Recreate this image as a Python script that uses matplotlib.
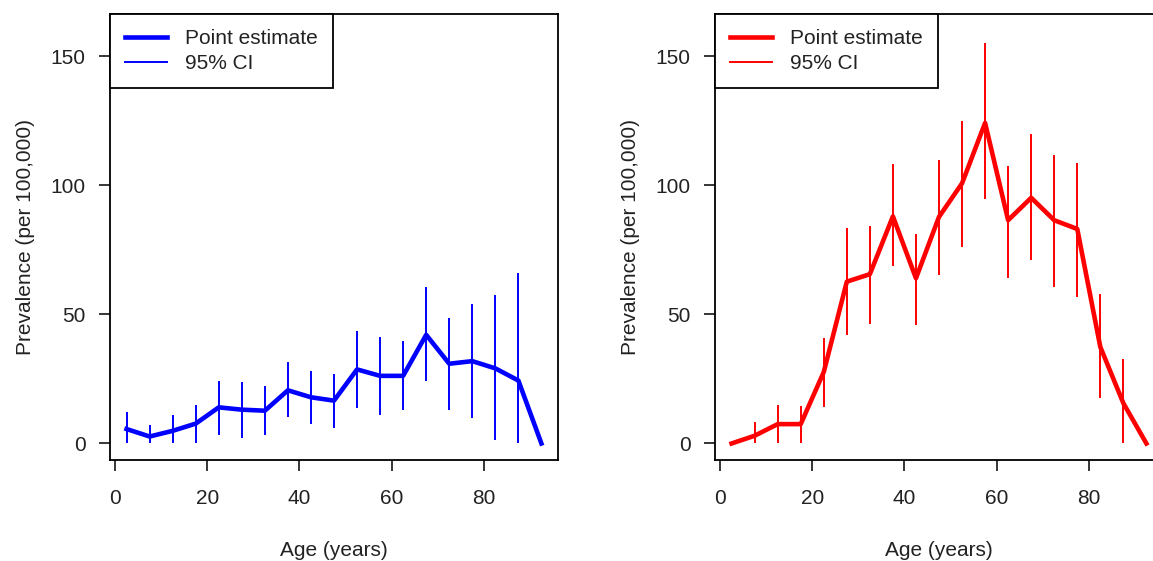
import numpy as np
import matplotlib
matplotlib.use("Agg")
import matplotlib.pyplot as plt
from matplotlib.lines import Line2D

plt.rcParams['font.family'] = ['Liberation Sans', 'DejaVu Sans']

age = [2.5, 7.5, 12.5, 17.5, 22.5, 27.5, 32.5, 37.5, 42.5, 47.5,
       52.5, 57.5, 62.5, 67.5, 72.5, 77.5, 82.5, 87.5, 92.5]

male_est = [5.6, 2.7, 4.9, 7.7, 14.0, 13.1, 12.7, 20.6, 17.9, 16.6,
            28.7, 26.2, 26.2, 42.1, 30.9, 31.9, 29.1, 24.4, 0.0]
male_lo = [0.0, 0.0, 0.0, 0.1, 3.4, 2.3, 3.4, 10.1, 7.5, 6.0,
           13.8, 10.9, 13.0, 24.2, 13.0, 9.9, 1.4, 0.0, np.nan]
male_hi = [12.2, 7.3, 11.2, 14.8, 24.4, 23.9, 22.1, 31.7, 28.1, 27.0,
           43.4, 41.3, 39.7, 60.8, 48.8, 54.0, 57.7, 66.0, np.nan]

female_est = [0.0, 3.0, 7.5, 7.5, 27.7, 62.7, 65.6, 88.0, 64.0, 87.8,
              100.8, 124.2, 86.5, 95.2, 86.5, 83.1, 37.4, 15.6, 0.0]
female_lo = [np.nan, 0.0, 0.0, 0.0, 14.3, 42.0, 46.2, 68.6, 45.9, 65.3,
             76.1, 94.8, 64.0, 70.9, 60.8, 56.9, 17.7, 0.0, np.nan]
female_hi = [np.nan, 8.2, 15.1, 14.7, 40.7, 83.5, 84.2, 108.2, 81.3, 109.9,
             125.1, 155.3, 107.5, 119.9, 111.7, 108.8, 57.9, 32.9, np.nan]

x_ticks = [0, 20, 40, 60, 80]
y_ticks = [0, 50, 100, 150]
xlabel = "Age (years)"
ylabel = "Prevalence (per 100,000)"
legend_labels = ["Point estimate", "95% CI"]

W, H = 1153, 561
fig = plt.figure(figsize=(W / 100, H / 100), dpi=100)

panels = [
    (110, male_est, male_lo, male_hi, "#0000FF"),
    (715, female_est, female_lo, female_hi, "#FF0000"),
]

FS = 15
for left_px, est, lo, hi, col in panels:
    ax = fig.add_axes([left_px / W, (H - 460) / H, 448 / W, 446 / H])
    x = np.array(age)
    lo_a = np.array(lo, dtype=float)
    hi_a = np.array(hi, dtype=float)
    m = ~np.isnan(lo_a)
    ax.vlines(x[m], lo_a[m], hi_a[m], color=col, lw=1.4)
    ax.plot(x, est, color=col, lw=3.3, solid_joinstyle='round')
    ax.set_xlim(-1.1, 96.1)
    ax.set_ylim(-6.4, 166.4)
    ax.set_xticks(x_ticks)
    ax.set_yticks(y_ticks)
    ax.tick_params(axis='both', direction='out', length=8, width=1.1,
                   labelsize=FS, color='black', labelcolor='#222222')
    ax.tick_params(axis='x', pad=13)
    ax.tick_params(axis='y', pad=9.5)
    for s in ax.spines.values():
        s.set_linewidth(1.3)
        s.set_color('black')
    ax.set_xlabel(xlabel, fontsize=FS, labelpad=24, color='#222222')
    ax.set_ylabel(ylabel, fontsize=FS, labelpad=11, color='#222222')
    handles = [Line2D([0], [0], color=col, lw=3.3),
               Line2D([0], [0], color=col, lw=1.4)]
    leg = ax.legend(handles, legend_labels, loc='upper left',
                    bbox_to_anchor=(0, 1), borderaxespad=0,
                    fancybox=False, framealpha=1, edgecolor='black',
                    fontsize=FS, handlelength=2.0, handletextpad=0.9,
                    labelspacing=0.3, borderpad=0.72)
    leg.get_frame().set_linewidth(1.3)
    for t in leg.get_texts():
        t.set_color('#222222')

fig.savefig("out.png", dpi=100, facecolor='white')
